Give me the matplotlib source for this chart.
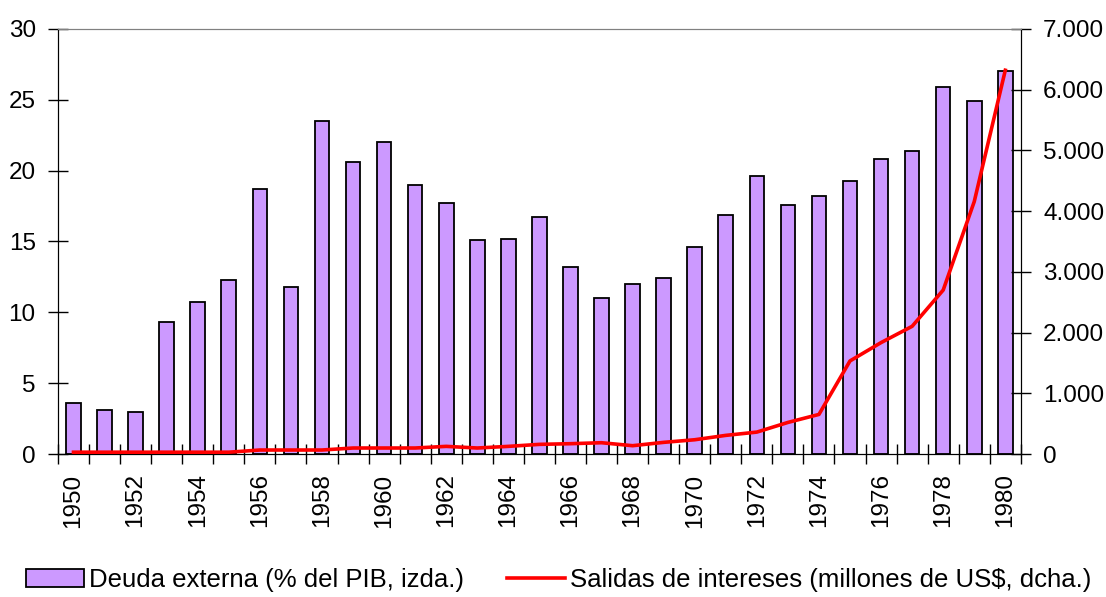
import numpy as np
import matplotlib.pyplot as plt
from matplotlib.ticker import FuncFormatter, FixedLocator

# Data
years = list(range(1950, 1981))
deuda = [3.6, 3.1, 3.0, 9.3, 10.7, 12.25, 18.7, 11.8, 23.5, 20.6, 22.0, 19.0, 17.75,
         15.1, 15.2, 16.75, 13.2, 11.0, 12.0, 12.4, 14.6, 16.9, 19.6, 17.6, 18.2,
         19.3, 20.85, 21.4, 25.9, 24.95, 27.05]
intereses = [30, 30, 30, 30, 30, 30, 66, 66, 66, 99, 99, 99, 126, 99, 126, 159,
             170, 186, 137, 192, 235, 307, 361, 520, 652, 1533, 1835, 2103, 2700,
             4157, 6320]

plt.rcParams['font.family'] = ['Liberation Sans', 'DejaVu Sans']

fig = plt.figure(figsize=(11.06, 5.97), dpi=100)
ax = fig.add_axes([0.0524, 0.2395, 0.8706, 0.712])
ax2 = ax.twinx()

x = np.arange(len(years))
bars = ax.bar(x, deuda, width=0.47, color='#CC99FF', edgecolor='black', linewidth=1.3,
              label='Deuda externa (% del PIB, izda.)', zorder=2)
line, = ax2.plot(x, intereses, color='red', linewidth=2.6,
                 label='Salidas de intereses (millones de US$, dcha.)', zorder=3)

ax.set_xlim(-0.5, len(years) - 0.5)
ax.set_ylim(0, 30)
ax2.set_ylim(0, 7000)
ax.set_yticks(range(0, 31, 5))
ax2.set_yticks(range(0, 7001, 1000))
ax2.yaxis.set_major_formatter(FuncFormatter(lambda v, p: f'{int(v):,}'.replace(',', '.')))

# year labels every other year, tick marks at category boundaries
ax.set_xticks(x[::2])
ax.set_xticklabels([str(y) for y in years[::2]], rotation=90)
ax.xaxis.set_minor_locator(FixedLocator(np.arange(-0.5, len(years), 1.0)))
ax.tick_params(axis='x', which='major', length=0, pad=14, labelsize=17.5)
ax.tick_params(axis='x', which='minor', direction='inout', length=14, width=1)
ax.tick_params(axis='y', direction='inout', length=14, width=1, labelsize=17.5, pad=9)
ax2.tick_params(axis='y', direction='inout', length=14, width=1, labelsize=17.5, pad=9)

for a in (ax, ax2):
    a.spines['top'].set_color('#808080')
    a.spines['left'].set_color('black')
    a.spines['right'].set_color('black')
    a.spines['bottom'].set_color('black')

ax.set_zorder(ax2.get_zorder() - 1)
ax2.patch.set_visible(False)

fig.legend([bars, line], [bars.get_label(), line.get_label()], loc='lower center',
           bbox_to_anchor=(0.505, -0.03), ncol=2, frameon=False, fontsize=18.5,
           handlelength=2.26, handletextpad=0.2, columnspacing=1.67)

fig.savefig('out.png', dpi=100)
